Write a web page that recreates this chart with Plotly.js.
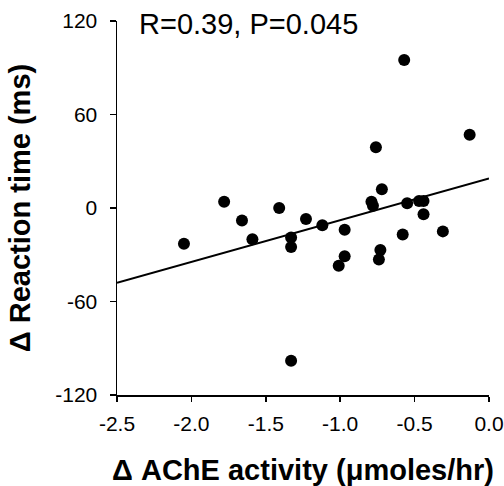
<!DOCTYPE html>
<html>
<head>
<meta charset="utf-8">
<script src="https://cdn.plot.ly/plotly-3.0.1.min.js"></script>
<style>html,body{margin:0;padding:0;background:#fff;}#chart{width:504px;height:486px;}</style>
</head>
<body>
<div id="chart"></div>
<script>
// Data
const acheChange = [-2.05, -1.78, -1.66, -1.59, -1.41, -1.33, -1.33, -1.33, -1.23, -1.12, -0.97, -0.97, -1.01, -0.79, -0.78, -0.76, -0.72, -0.73, -0.74, -0.57, -0.58, -0.55, -0.47, -0.44, -0.44, -0.31, -0.13];
const rtChange   = [-23, 4, -8, -20, 0, -19, -25, -98, -7, -11, -14, -31, -37, 4, 1.5, 39, 12, -27, -33, 95, -17, 3, 4.5, 4.5, -4, -15, 47];
const fitX = [-2.5, 0];
const fitY = [-48, 19];
const xTicks = [-2.5, -2.0, -1.5, -1.0, -0.5, 0.0];
const xTickLabels = ["-2.5", "-2.0", "-1.5", "-1.0", "-0.5", "0.0"];
const yTicks = [-120, -60, 0, 60, 120];
const yTickLabels = ["-120", "-60", "0", "60", "120"];
const statsText = "R=0.39, P=0.045";

const font = "Arial, 'Liberation Sans', Helvetica, sans-serif";

const traces = [
  {
    x: fitX, y: fitY, mode: "lines", type: "scatter",
    line: {color: "#000", width: 2}, hoverinfo: "skip", showlegend: false
  },
  {
    x: acheChange, y: rtChange, mode: "markers", type: "scatter",
    marker: {color: "#000", size: 12}, showlegend: false
  }
];

const layout = {
  width: 504, height: 486,
  margin: {l: 117, r: 15, t: 21, b: 91},
  paper_bgcolor: "#fff", plot_bgcolor: "#fff",
  font: {family: font, color: "#000"},
  xaxis: {
    range: [-2.5, 0], tickmode: "array", tickvals: xTicks, ticktext: xTickLabels,
    showgrid: false, zeroline: false, showline: true, linecolor: "#000", linewidth: 1.5,
    ticks: "outside", ticklen: 5, tickwidth: 1.5, tickcolor: "#000",
    tickfont: {size: 21, family: font, color: "#000"}, ticklabelstandoff: 4,
    title: {text: "<b>Δ AChE activity (μmoles/hr)</b>", font: {size: 29, family: font, color: "#000"}, standoff: 26}
  },
  yaxis: {
    range: [-120, 120], tickmode: "array", tickvals: yTicks, ticktext: yTickLabels,
    showgrid: false, zeroline: false, showline: true, linecolor: "#000", linewidth: 1.5,
    ticks: "outside", ticklen: 6, tickwidth: 1.5, tickcolor: "#000",
    tickfont: {size: 21, family: font, color: "#000"}, ticklabelstandoff: 8,
    title: {text: "<b>Δ Reaction time (ms)</b>", font: {size: 29, family: font, color: "#000"}, standoff: 16}
  },
  annotations: [{
    text: statsText, xref: "paper", yref: "paper", x: 0.055, y: 1.04,
    xanchor: "left", yanchor: "top", showarrow: false,
    font: {size: 29, family: font, color: "#000"}
  }]
};

Plotly.newPlot("chart", traces, layout, {displayModeBar: false, staticPlot: true});
</script>
</body>
</html>
